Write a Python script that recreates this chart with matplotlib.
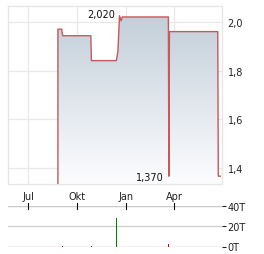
import matplotlib
matplotlib.use("Agg")
import matplotlib.pyplot as plt
import matplotlib.dates as mdates
import numpy as np
import pandas as pd

# price series (step-like)
price_dates = ["2023-08-26", "2023-08-26", "2023-09-02", "2023-09-04", "2023-10-27",
               "2023-10-28", "2023-12-14", "2023-12-17", "2023-12-20", "2023-12-23",
               "2023-12-25", "2024-03-21", "2024-03-22", "2024-03-23", "2024-06-22",
               "2024-06-23", "2024-06-27"]
price_vals = [1.30, 1.97, 1.97, 1.943, 1.943,
              1.841, 1.841, 1.88, 2.025, 2.004,
              2.02, 2.02, 1.367, 1.96, 1.96,
              1.367, 1.367]

# volume (thousands)
vol_dates = ["2023-08-26", "2023-08-30", "2023-09-04", "2023-10-28", "2023-12-14",
             "2023-12-19", "2023-12-27", "2024-03-21", "2024-06-22"]
vol_vals = [0.8, 0.8, 0.8, 0.8, 28, 0.8, 0.8, 2.5, 0.8]
vol_up = [False, False, False, True, True, True, False, False, True]

ytick_vals = [1.4, 1.6, 1.8, 2.0]
ytick_labels = ["1,4", "1,6", "1,8", "2,0"]
xtick_dates = ["2023-07-01", "2023-10-01", "2024-01-01", "2024-04-01"]
xtick_labels = ["Jul", "Okt", "Jan", "Apr"]
vtick_vals = [0, 20, 40]
vtick_labels = ["0T", "20T", "40T"]

x0, x1 = mdates.date2num(pd.Timestamp("2023-05-24")), mdates.date2num(pd.Timestamp("2024-06-30"))

px = mdates.date2num(pd.to_datetime(price_dates))
py = np.array(price_vals)
vx = mdates.date2num(pd.to_datetime(vol_dates))
xt = mdates.date2num(pd.to_datetime(xtick_dates))

W, H = 264, 255
fig = plt.figure(figsize=(W / 100, H / 100), dpi=100)
ax = fig.add_axes([8 / W, 1 - 185 / H, 214 / W, 178 / H])
ymin, ymax = 1.335, 2.065
ax.set_xlim(x0, x1)
ax.set_ylim(ymin, ymax)

# gradient fill under the line
poly = ax.fill_between(px, py, ymin, color="none", lw=0)
grad = np.linspace(0, 1, 256).reshape(-1, 1)
top = np.array([0.76, 0.81, 0.85])
bot = np.array([0.99, 0.99, 1.0])
img = top + (bot - top) * grad
im = ax.imshow(img[:, None, :].repeat(2, axis=1), extent=[x0, x1, ymin, 2.03],
               aspect="auto", origin="upper", zorder=1)
im.set_clip_path(poly.get_paths()[0], transform=ax.transData)
ax.plot(px, py, color="#c8585a", lw=1.0, zorder=3, clip_on=True)

ax.set_yticks(ytick_vals)
ax.set_yticklabels(ytick_labels)
ax.set_xticks(xt)
ax.set_xticklabels(xtick_labels)
ax.yaxis.tick_right()
ax.tick_params(axis="both", length=0, labelsize=7, colors="#222222")
ax.tick_params(axis="y", pad=4)
ax.tick_params(axis="x", pad=5)
ax.grid(True, color="#e8e8e8", lw=0.9, zorder=0)
ax.set_axisbelow(True)
for s in ax.spines.values():
    s.set_color("#e6e6e6")
    s.set_linewidth(0.9)

ax.text(mdates.date2num(pd.Timestamp("2023-12-11")), 2.033, "2,020", ha="right",
        va="center", fontsize=7, color="#111111")
ax.text(mdates.date2num(pd.Timestamp("2024-03-13")), 1.362, "1,370", ha="right",
        va="center", fontsize=7, color="#111111")

# volume panel
vax = fig.add_axes([8 / W, 1 - 247.5 / H, 214 / W, 40.5 / H])
vax.set_xlim(x0, x1)
vax.set_ylim(0, 40)
colors = ["#008000" if u else "#cc0000" for u in vol_up]
vax.bar(vx, vol_vals, width=0.9, color=colors, zorder=3)
vax.set_yticks(vtick_vals)
vax.set_yticklabels(vtick_labels)
vax.yaxis.tick_right()
vax.tick_params(axis="y", length=3, width=0.8, labelsize=7, pad=1, colors="#222222")
vax.grid(True, axis="y", color="#cccccc", lw=0.9, zorder=0)
vax.set_xticks([])
for s in vax.spines.values():
    s.set_visible(False)
for t in xt:
    vax.plot([t, t], [37.5, 42.5], color="#111111", lw=0.8, clip_on=False, zorder=4)
vax.axhline(0, color="#cccccc", lw=0.9, zorder=1)
vax.axhline(40, color="#cccccc", lw=0.9, zorder=1)

fig.savefig("out.png", dpi=100)
